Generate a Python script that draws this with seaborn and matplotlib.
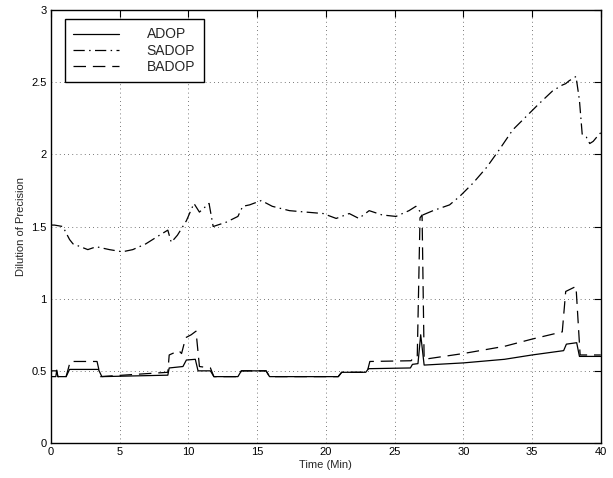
import matplotlib
matplotlib.use("Agg")
import matplotlib.pyplot as plt
import numpy as np
import pandas as pd
import seaborn as sns

# Time axis (minutes) and DOP values for each series
adop_t = [0, 0.35, 0.42, 0.5, 1.1, 1.35, 3.45, 3.7, 8.5, 8.6, 9.6, 9.85, 10.5, 10.7,
          11.6, 11.85, 13.6, 13.85, 15.65, 15.9, 20.9, 21.15, 22.9, 23.1, 26.15, 26.3,
          26.7, 26.9, 27.15, 30, 33, 35, 37.3, 37.5, 38.25, 38.45, 40]
adop_v = [0.46, 0.46, 0.505, 0.46, 0.46, 0.51, 0.51, 0.46, 0.47, 0.52, 0.53, 0.575, 0.58, 0.50,
          0.50, 0.46, 0.46, 0.50, 0.50, 0.46, 0.46, 0.49, 0.49, 0.515, 0.52, 0.545,
          0.55, 0.75, 0.54, 0.555, 0.58, 0.61, 0.64, 0.685, 0.695, 0.60, 0.60]

sadop_t = [0, 0.25, 0.86, 1.35, 1.6, 2.68, 3.29, 4.25, 5.2, 5.95, 6.9, 7.9, 8.5, 8.75, 9.2,
           9.85, 10.4, 10.8, 11.5, 11.8, 12.75, 13.6, 13.95, 14.45, 15.3, 16.1, 17.35,
           18.55, 19.8, 20.75, 21.7, 22.4, 23.15, 24.1, 25.1, 26.05, 26.55, 27.05, 27.8,
           29.0, 29.75, 30.7, 31.7, 32.6, 33.6, 34.55, 35.5, 36.5, 37.2, 37.45, 37.7,
           38.05, 38.2, 38.45, 38.65, 38.95, 39.2, 39.45, 39.8, 40]
sadop_v = [1.51, 1.51, 1.50, 1.41, 1.38, 1.34, 1.36, 1.34, 1.325, 1.34, 1.38, 1.44, 1.475, 1.39, 1.44,
           1.54, 1.66, 1.60, 1.66, 1.50, 1.53, 1.57, 1.64, 1.65, 1.68, 1.64, 1.61,
           1.60, 1.59, 1.556, 1.59, 1.556, 1.61, 1.58, 1.57, 1.61, 1.64, 1.58, 1.61,
           1.65, 1.71, 1.80, 1.91, 2.03, 2.17, 2.26, 2.35, 2.44, 2.48, 2.49, 2.51,
           2.53, 2.54, 2.375, 2.14, 2.12, 2.075, 2.09, 2.13, 2.15]

badop_t = [0, 0.4, 0.5, 1.1, 1.4, 3.35, 3.6, 8.5, 8.6, 9.3, 9.5, 9.8, 10.2, 10.55, 10.8,
           11.6, 11.85, 13.6, 13.85, 15.65, 15.9, 20.9, 21.15, 23.0, 23.2, 26.2, 26.45,
           26.65, 26.85, 27.0, 27.15, 30, 33, 35, 37.2, 37.45, 38.2, 38.5, 40]
badop_v = [0.50, 0.50, 0.46, 0.46, 0.565, 0.565, 0.46, 0.49, 0.61, 0.64, 0.62, 0.73, 0.75, 0.775, 0.53,
           0.52, 0.46, 0.46, 0.50, 0.50, 0.46, 0.46, 0.49, 0.49, 0.565, 0.57, 0.60,
           0.60, 1.56, 1.58, 0.58, 0.62, 0.67, 0.72, 0.77, 1.05, 1.085, 0.61, 0.61]

series_names = ["ADOP", "SADOP", "BADOP"]
x_ticks = [0, 5, 10, 15, 20, 25, 30, 35, 40]
y_ticks = [0, 0.5, 1, 1.5, 2, 2.5, 3]
y_tick_labels = ["0", "0.5", "1", "1.5", "2", "2.5", "3"]

frames = []
for name, t, v in zip(series_names, [adop_t, sadop_t, badop_t], [adop_v, sadop_v, badop_v]):
    frames.append(pd.DataFrame({"Time": t, "DOP": v, "Series": name}))
df = pd.concat(frames, ignore_index=True)

sns.set_style("white")
plt.rcParams["font.family"] = ["Liberation Sans", "DejaVu Sans"]

fig = plt.figure(figsize=(6.13, 4.78), dpi=100)
ax = fig.add_axes([0.0832, 0.0732, 0.8968, 0.9058])

sns.lineplot(
    data=df, x="Time", y="DOP", hue="Series", style="Series",
    hue_order=series_names, style_order=series_names,
    palette={n: "black" for n in series_names},
    dashes={"ADOP": "", "SADOP": (9, 3.5, 1.2, 3.5), "BADOP": (10, 5.5)},
    estimator=None, sort=False, linewidth=0.9, ax=ax, legend=False,
)

ax.set_xlim(0, 40)
ax.set_ylim(0, 3)
ax.set_xticks(x_ticks)
ax.set_xticklabels([str(x) for x in x_ticks])
ax.set_yticks(y_ticks)
ax.set_yticklabels(y_tick_labels)
ax.tick_params(direction="in", length=5, width=0.8, top=True, right=True,
               labelsize=8, pad=3, colors="black")
ax.grid(True, color="black", linestyle=(0, (1, 4)), linewidth=0.6, alpha=0.7)
for s in ax.spines.values():
    s.set_color("black")
    s.set_linewidth(1.0)

ax.set_xlabel("Time (Min)", fontsize=8, labelpad=2)
ax.set_ylabel("Dilution of Precision", fontsize=8, labelpad=4)

handles = ax.get_lines()[:3]
leg = ax.legend(handles, series_names, loc="upper left", bbox_to_anchor=(0.025, 0.979),
                fontsize=10, frameon=True, fancybox=False, edgecolor="black",
                framealpha=1, handlelength=3.3, handletextpad=2.0, borderpad=0.6,
                labelspacing=0.15, borderaxespad=0)
leg.get_frame().set_linewidth(1.0)

fig.savefig("out.png", dpi=100)
